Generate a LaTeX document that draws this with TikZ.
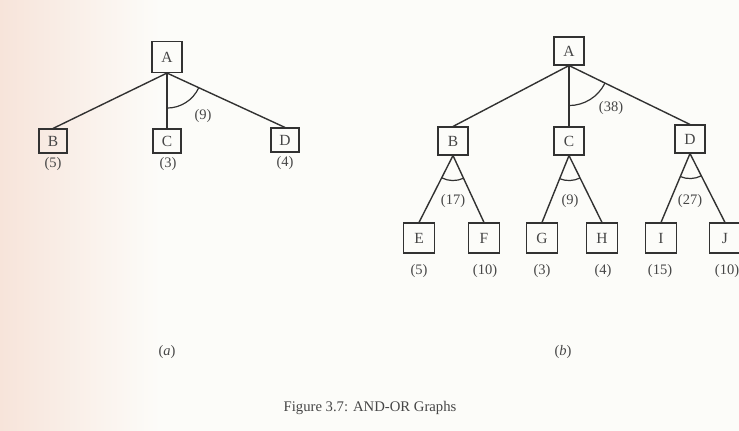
\documentclass[tikz,border=0pt]{standalone}
\usepackage{fontspec}
\setmainfont{Liberation Serif}
\usetikzlibrary{angles}
\definecolor{linec}{RGB}{50,50,50}
\definecolor{txt}{RGB}{70,70,70}
\definecolor{bgc}{RGB}{252,252,249}
\definecolor{peach}{RGB}{247,228,218}
\begin{document}
\begin{tikzpicture}[x=1pt,y=1pt,
  box/.style={draw=linec, line width=1.1pt, minimum width=28pt, minimum height=24pt, inner sep=0pt, text=txt, font=\fontsize{15.5}{15.5}\selectfont},
  rootbox/.style={box, minimum width=30pt, minimum height=31pt},
  midbox/.style={box, minimum width=30pt, minimum height=28pt},
  leafbox/.style={box, minimum width=31pt, minimum height=30pt},
  lbl/.style={text=txt, inner sep=1pt, font=\fontsize{14.5}{14.5}\selectfont},
  edge/.style={draw=linec, line width=1.4pt},
  andarc/.style={draw=linec, line width=1.2pt}
]
\useasboundingbox (0,0) rectangle (739,-431);
\fill[bgc] (0,0) rectangle (739,-431);
\fill[left color=peach, right color=bgc] (0,0) rectangle (160,-431);

% ---------- panel (a)
\node[rootbox] (aA) at (167,-57) {A};
\node[box] (aB) at (53,-141) {B};
\node[box] (aC) at (167,-141) {C};
\node[box] (aD) at (285,-140) {D};
\coordinate (aO) at (aA.south);
\coordinate (aCt) at (aC.north);
\coordinate (aDt) at (aD.north);
\draw[edge] (aO) -- (aB.north);
\draw[edge] (aO) -- (aCt);
\draw[edge] (aO) -- (aDt);
\pic[andarc, angle radius=35pt] {angle = aCt--aO--aDt};
\node[lbl] (aw) at (203,-116) {(9)};
\node[lbl] (aBw) at (53,-164) {(5)};
\node[lbl] (aCw) at (168,-164) {(3)};
\node[lbl] (aDw) at (285,-163) {(4)};
\node[lbl] (acap) at (167,-352) {(\textit{a})};

% ---------- panel (b)
\node[rootbox, minimum height=28pt] (bA) at (569,-51) {A};
\node[midbox] (bB) at (453,-141) {B};
\node[midbox] (bC) at (569,-141) {C};
\node[midbox] (bD) at (690,-139) {D};
\coordinate (bO) at (bA.south);
\coordinate (bCt) at (bC.north);
\coordinate (bDt) at (bD.north);
\draw[edge] (bO) -- (bB.north);
\draw[edge] (bO) -- (bCt);
\draw[edge] (bO) -- (bDt);
\pic[andarc, angle radius=40pt] {angle = bCt--bO--bDt};
\node[lbl] (bw) at (611,-108) {(38)};

\node[leafbox] (bE) at (419,-238) {E};
\node[leafbox] (bF) at (484,-238) {F};
\node[leafbox] (bG) at (542,-238) {G};
\node[leafbox] (bH) at (602,-238) {H};
\node[leafbox] (bI) at (661,-238) {I};
\node[leafbox] (bJ) at (725,-238) {J};

\foreach \p/\l/\r in {bB/bE/bF, bC/bG/bH, bD/bI/bJ}{
  \coordinate (\p o) at (\p.south);
  \coordinate (\l t) at (\l.north);
  \coordinate (\r t) at (\r.north);
  \draw[edge] (\p o) -- (\l t);
  \draw[edge] (\p o) -- (\r t);
  \pic[andarc, angle radius=25pt] {angle = \l t--\p o--\r t};
}
\node[lbl] (bBw) at (453,-201) {(17)};
\node[lbl] (bCw) at (570,-201) {(9)};
\node[lbl] (bDw) at (690,-201) {(27)};

\node[lbl] (bEw) at (419,-271) {(5)};
\node[lbl] (bFw) at (485,-271) {(10)};
\node[lbl] (bGw) at (542,-271) {(3)};
\node[lbl] (bHw) at (603,-271) {(4)};
\node[lbl] (bIw) at (660,-271) {(15)};
\node[lbl] (bJw) at (727,-271) {(10)};
\node[lbl] (bcap) at (563,-352) {(\textit{b})};

\node[lbl, font=\fontsize{14.7}{14.7}\selectfont] (fig) at (370,-408) {Figure 3.7: AND-OR Graphs};
\end{tikzpicture}
\end{document}
